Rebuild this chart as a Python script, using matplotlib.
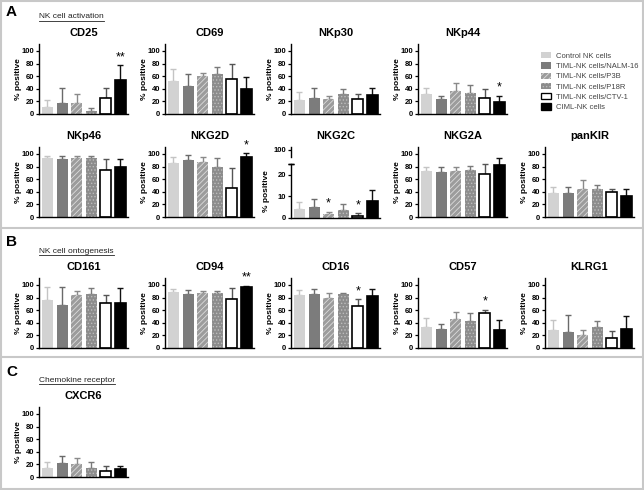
import matplotlib
matplotlib.use("Agg")
import matplotlib.pyplot as plt
from matplotlib.patches import Patch, Rectangle
from matplotlib.lines import Line2D
import numpy as np

plt.rcParams['font.family'] = ['Liberation Sans', 'DejaVu Sans']
plt.rcParams['hatch.linewidth'] = 0.6

W, H = 644, 490

# grupos (leyenda)
groups = ['Control NK cells', 'TIML-NK cells/NALM-16', 'TIML-NK cells/P3B',
          'TIML-NK cells/P18R', 'TIML-NK cells/CTV-1', 'CIML-NK cells']

# medias y desviaciones (% positivo)
CD25 = [11, 17, 17, 5, 26, 54];       CD25_sd = [11, 24, 14, 5, 15, 23]
CD69 = [53, 45, 60, 63, 56, 40];      CD69_sd = [19, 19, 5, 12, 23, 19]
NKp30 = [22, 25, 24, 32, 23, 30];     NKp30_sd = [13, 17, 5, 8, 8, 11]
NKp44 = [32, 23, 36, 34, 25, 19];     NKp44_sd = [9, 6, 13, 12, 15, 10]
NKp46 = [93, 92, 93, 94, 75, 80];     NKp46_sd = [3, 4, 3, 2, 17, 12]
NKG2D = [86, 90, 87, 80, 46, 95];     NKG2D_sd = [9, 9, 8, 13, 31, 6]
NKG2C = [4.3, 5, 2, 3.7, 1.1, 7.8];   NKG2C_sd = [3.2, 4, 1, 2.8, 1.1, 5.2]
NKG2A = [73, 71, 73, 74, 68, 83];     NKG2A_sd = [7, 8, 6, 7, 16, 11]
panKIR = [38, 38, 44, 45, 40, 34];    panKIR_sd = [9, 10, 14, 6, 5, 11]
CD161 = [76, 68, 84, 86, 72, 72];     CD161_sd = [21, 28, 6, 9, 12, 23]
CD94 = [89, 85, 88, 88, 78, 96];      CD94_sd = [4, 7, 2, 2, 17, 3]
CD16 = [84, 86, 80, 86, 67, 83];      CD16_sd = [8, 7, 8, 2, 10, 10]
CD57 = [33, 30, 46, 43, 55, 29];      CD57_sd = [14, 8, 11, 12, 6, 15]
KLRG1 = [28, 26, 20, 33, 16, 30];     KLRG1_sd = [17, 26, 9, 10, 11, 20]
CXCR6 = [14, 22, 21, 15, 10, 13];     CXCR6_sd = [9, 12, 9, 8, 7, 5]

# significancia: marcador -> {indice: texto}
sig = {'CD25': {5: '**'}, 'NKp44': {5: '*'}, 'NKG2D': {5: '*'},
       'NKG2C': {2: '*', 4: '*'}, 'CD94': {5: '**'}, 'CD16': {4: '*'},
       'CD57': {4: '*'}}

# estilos de las barras
face = ['#d2d2d2', '#7c7c7c', '#9c9c9c', '#8c8c8c', 'white', 'black']
edge = ['#d2d2d2', '#7c7c7c', '#dcdcdc', '#bdbdbd', 'black', 'black']
hatch = [None, None, '//////', '.....', None, None]
lw = [0, 0, 0, 0, 1.2, 1.2]
ecol = ['#c4c4c4', '#6a6a6a', '#8a8a8a', '#7a7a7a', '#555555', '#111111']

cols = [39, 165, 291, 418, 545]
AW, AH = 89, 70


def pos(x, y_top, w, h):
    return [x / W, 1 - (y_top + h) / H, w / W, h / H]


def estilo_ejes(ax):
    for s in ['top', 'right']:
        ax.spines[s].set_visible(False)
    ax.spines['left'].set_linewidth(1.0)
    ax.spines['bottom'].set_linewidth(1.0)
    ax.set_xticks([])
    ax.tick_params(axis='y', length=2.5, width=0.9, pad=1, labelsize=5.5)
    for t in ax.get_yticklabels():
        t.set_fontweight('bold')


def barras(ax, vals, sds, nombre, ymax):
    x = np.arange(len(vals))
    for i in range(len(vals)):
        ax.errorbar(x[i], vals[i], yerr=[[0], [sds[i]]], fmt='none',
                    ecolor=ecol[i], elinewidth=1.0, capsize=2, capthick=1.0,
                    zorder=1)
        ax.bar(x[i], vals[i], width=0.75, color=face[i], edgecolor=edge[i],
               hatch=hatch[i], linewidth=lw[i], zorder=2)
    for i, s in sig.get(nombre, {}).items():
        ax.annotate(s, (x[i], vals[i] + sds[i]), xytext=(0, 1.5),
                    textcoords='offset points', ha='center', va='bottom',
                    fontsize=9, annotation_clip=False)
    ax.set_xlim(-0.58, 5.52)
    ax.set_ylim(0, ymax)


def panel(nombre, vals, sds, col, top):
    ax = fig.add_axes(pos(cols[col], top, AW, AH))
    barras(ax, vals, sds, nombre, 111)
    ax.set_yticks([0, 20, 40, 60, 80, 100])
    estilo_ejes(ax)
    ax.set_ylabel('% positive', fontsize=6, fontweight='bold')
    ax.yaxis.set_label_coords(-0.195, 0.5)
    fig.text((cols[col] + AW / 2) / W, 1 - (top - 11) / H, nombre,
             ha='center', va='center', fontsize=8, fontweight='bold')
    return ax


fig = plt.figure(figsize=(W / 100, H / 100), dpi=100)

# fila A1
panel('CD25', CD25, CD25_sd, 0, 44)
panel('CD69', CD69, CD69_sd, 1, 44)
panel('NKp30', NKp30, NKp30_sd, 2, 44)
panel('NKp44', NKp44, NKp44_sd, 3, 44)

# fila A2
panel('NKp46', NKp46, NKp46_sd, 0, 147)
panel('NKG2D', NKG2D, NKG2D_sd, 1, 147)
panel('NKG2A', NKG2A, NKG2A_sd, 3, 147)
panel('panKIR', panKIR, panKIR_sd, 4, 147)

# NKG2C con eje cortado
ax_lo = fig.add_axes(pos(cols[2], 164, AW, 54))
barras(ax_lo, NKG2C, NKG2C_sd, 'NKG2C', 25)
ax_lo.set_yticks([0, 10, 20])
estilo_ejes(ax_lo)
ax_lo.set_ylabel('% positive', fontsize=6, fontweight='bold')
ax_lo.yaxis.set_label_coords(-0.235, 0.5)
ax_lo.plot([-0.58, -0.58], [25, 25], marker='_', markersize=5,
           markeredgewidth=1.0, color='black', clip_on=False,
           transform=ax_lo.transData)
ax_hi = fig.add_axes(pos(cols[2], 147, AW, 10))
ax_hi.set_ylim(97, 101)
ax_hi.set_xlim(-0.58, 5.52)
ax_hi.set_yticks([100])
estilo_ejes(ax_hi)
ax_hi.spines['bottom'].set_visible(False)
ax_hi.patch.set_visible(False)
fig.text((cols[2] + AW / 2) / W, 1 - 136 / H, 'NKG2C',
         ha='center', va='center', fontsize=8, fontweight='bold')

# fila B
panel('CD161', CD161, CD161_sd, 0, 278)
panel('CD94', CD94, CD94_sd, 1, 278)
panel('CD16', CD16, CD16_sd, 2, 278)
panel('CD57', CD57, CD57_sd, 3, 278)
panel('KLRG1', KLRG1, KLRG1_sd, 4, 278)

# fila C
panel('CXCR6', CXCR6, CXCR6_sd, 0, 407)

# leyenda
handles = [Patch(facecolor=face[i], edgecolor=edge[i], hatch=hatch[i],
                 linewidth=lw[i] * 0.8) for i in range(6)]
fig.legend(handles, groups, loc='upper left',
           bbox_to_anchor=(538 / W, 1 - 49 / H), frameon=False,
           fontsize=5.5, handlelength=1.3, handleheight=0.9,
           labelspacing=0.32, handletextpad=0.6, borderaxespad=0,
           labelcolor='#444444')

# letras y subtítulos de sección
secciones = [('A', 12, 'NK cell activation', 17),
             ('B', 242, 'NK cell ontogenesis', 251),
             ('C', 372, 'Chemokine receptor', 380)]
textos = []
for letra, yl, sub, ys in secciones:
    fig.text(6 / W, 1 - yl / H, letra, ha='left', va='center',
             fontsize=11, fontweight='bold')
    t = fig.text(39 / W, 1 - ys / H, sub, ha='left', va='center',
                 fontsize=6, color='#222222')
    textos.append((t, ys))

fig.canvas.draw()
r = fig.canvas.get_renderer()
for t, ys in textos:
    bb = t.get_window_extent(r)
    yy = 1 - (ys + 4) / H
    fig.add_artist(Line2D([bb.x0 / W, bb.x1 / W], [yy, yy],
                          color='#222222', lw=0.6))

# marco y separadores
gris = '#c8c8c8'
fig.add_artist(Rectangle((0.002, 0.002), 0.996, 0.996, fill=False,
                         edgecolor=gris, lw=1.5, transform=fig.transFigure))
for ysep in [228, 357]:
    fig.add_artist(Line2D([0, 1], [1 - ysep / H, 1 - ysep / H],
                          color=gris, lw=1.5))

fig.savefig('out.png', dpi=100)
